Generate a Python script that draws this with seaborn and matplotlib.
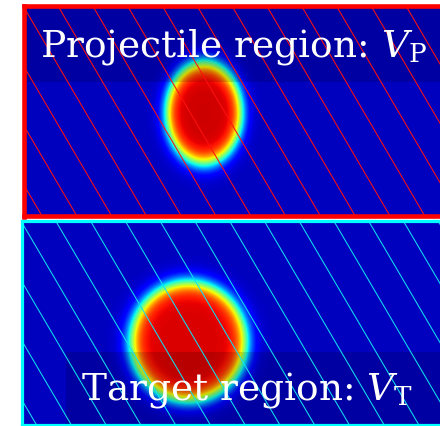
import numpy as np
import matplotlib
matplotlib.use("Agg")
import matplotlib.pyplot as plt
from matplotlib.patches import Rectangle
import seaborn as sns

# two regions: projectile (top) and target (bottom)
labels = ["Projectile region: $V_\\mathrm{P}$", "Target region: $V_\\mathrm{T}$"]
frame_colors = ["#ff0000", "#00ffff"]
hatch_colors = ["#ff1010", "#10e0f0"]

# density blob parameters (Woods-Saxon like), in pixel cells of each panel
blob_cx = [180, 167.5]
blob_cy = [107, 120.5]
blob_rx = [37, 57]
blob_ry = [50, 59]
blob_diffuse = [4.5, 4.8]
rho_peak = [0.93, 0.92]
rho_floor = 0.055

# panel boxes in figure pixels: left, top, right, bottom
panel_px = [(24, 6, 443, 216.5), (21.5, 220.5, 443, 424.5)]
frame_lw = [3.3, 2.3]

# label placement (x, baseline y) and dark band behind it (x0, y0, y1)
label_xy = [(209, 50), (226, 179.5)]
band = [(0, 0, 76), (44.5, 131.5, 210)]

W, H = 440, 426
fig = plt.figure(figsize=(W / 100, H / 100), dpi=100)

plt.rcParams['mathtext.fontset'] = 'dejavuserif'

for i in range(2):
    l, t, r, b = panel_px[i]
    ax = fig.add_axes([l / W, 1 - b / H, (r - l) / W, (b - t) / H])
    ncols, nrows = int(round(r - l)), int(round(b - t))
    yy, xx = np.mgrid[0:nrows, 0:ncols] + 0.5
    rr = np.sqrt(((xx - blob_cx[i]) / blob_rx[i]) ** 2 + ((yy - blob_cy[i]) / blob_ry[i]) ** 2)
    rmean = 0.5 * (blob_rx[i] + blob_ry[i])
    ws = 1.0 / (1.0 + np.exp((rr - 1.0) * rmean / blob_diffuse[i]))
    rho = rho_floor + (rho_peak[i] - rho_floor) * ws

    sns.heatmap(rho, ax=ax, cmap="jet", vmin=0, vmax=1, cbar=False,
                xticklabels=False, yticklabels=False)

    # dark band behind the label
    x0, y0, y1 = band[i]
    ax.add_patch(Rectangle((x0, y0), ncols - x0, y1 - y0, facecolor="black",
                           alpha=0.15, lw=0, zorder=2))

    # diagonal hatching
    slope, spacing, offset = 1.7, 34.8, 34
    for k in range(-6, 14):
        xs = offset + k * spacing
        ax.plot([xs, xs + nrows / slope], [0, nrows], color=hatch_colors[i],
                lw=0.75, zorder=3)
    ax.set_xlim(0, ncols)
    ax.set_ylim(nrows, 0)

    ax.text(label_xy[i][0], label_xy[i][1], labels[i], color="white", fontsize=27,
            ha="center", va="baseline", family="DejaVu Serif", zorder=5)

    for s in ax.spines.values():
        s.set_visible(True)
        s.set_color(frame_colors[i])
        s.set_linewidth(frame_lw[i])
        s.set_zorder(6)

fig.savefig("out.png", dpi=100)
